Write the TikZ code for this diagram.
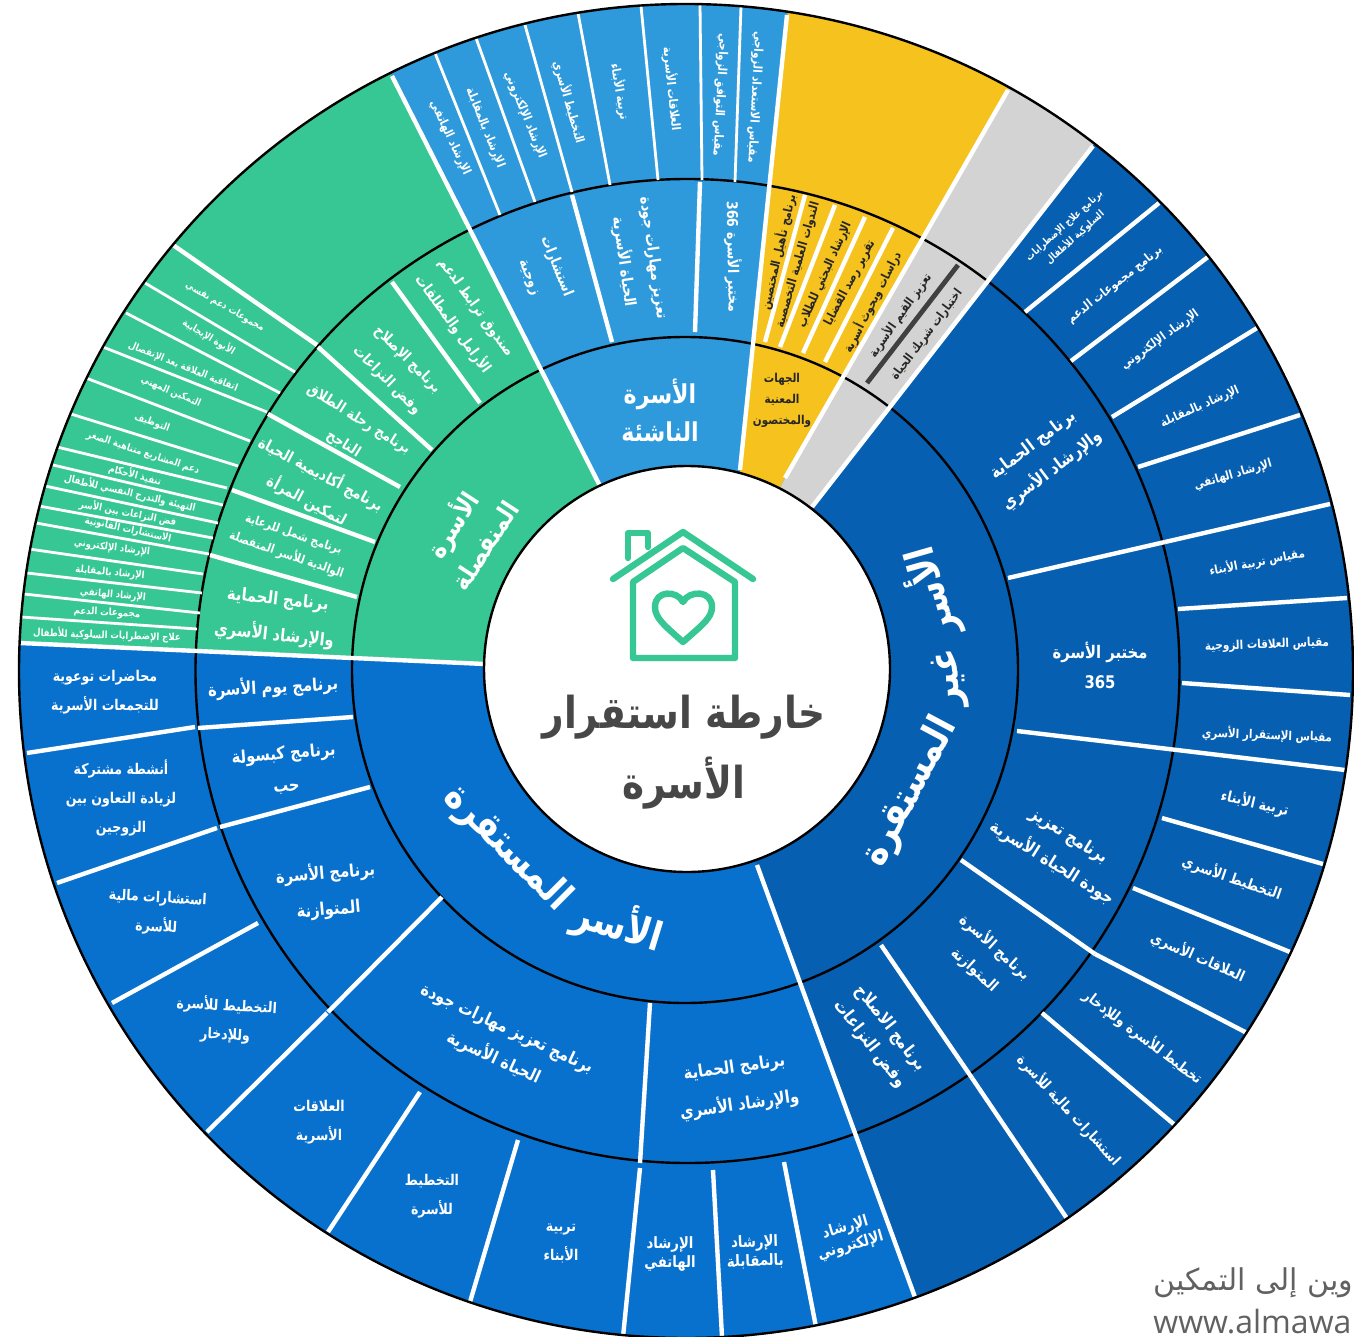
\documentclass[tikz,border=0pt]{standalone}
\usepackage{fontspec}
\newfontfamily\arabicfont[Script=Arabic,FakeStretch=0.85]{DejaVu Sans}
\newfontfamily\footfont[Script=Arabic]{DejaVu Sans}
\newfontfamily\latinfont{Open Sans}
\TeXXeTstate=1
\newcommand{\ar}[1]{\beginR #1\endR}
\definecolor{green_fill}{HTML}{36C795}
\definecolor{light_fill}{HTML}{2F9ADB}
\definecolor{mid_fill}{HTML}{0871CE}
\definecolor{dark_fill}{HTML}{065FB0}
\definecolor{yellow_fill}{HTML}{F5C21E}
\definecolor{grey_fill}{HTML}{D3D3D3}

\begin{document}
\begin{tikzpicture}[x=0.5pt,y=-0.5pt,
  sep_thin/.style={white, line width=1.4pt},
  sep_thick/.style={white, line width=2.2pt},
  ring/.style={black, line width=1.2pt},
  icon/.style={green_fill, line width=3.2pt, line join=round, line cap=round},
  txt/.style={text=white, align=center, inner sep=0pt},
  txt_dark/.style={text=black!85, align=center, inner sep=0pt},
  huge_txt/.style={font=\arabicfont\bfseries\fontsize{20}{24}\selectfont},
  big_txt/.style={font=\arabicfont\bfseries\fontsize{13}{19}\selectfont},
  small_txt/.style={font=\arabicfont\bfseries\fontsize{8.7}{16}\selectfont},
  mid_txt/.style={font=\arabicfont\bfseries\fontsize{7.8}{15}\selectfont},
  tiny_txt/.style={font=\arabicfont\bfseries\fontsize{7.4}{14.5}\selectfont},
  pack_txt/.style={font=\arabicfont\bfseries\fontsize{7.8}{9.5}\selectfont},
  micro_txt/.style={font=\arabicfont\bfseries\fontsize{6.1}{9}\selectfont},
  nano_txt/.style={font=\arabicfont\bfseries\fontsize{5}{8}\selectfont}]

 \useasboundingbox (0,0) rectangle (1354,1337);

 \begin{scope}
 \clip (686,671) circle (667);
 \fill [dark_fill] (686,671) circle (667);
 \fill [mid_fill] (686,671) -- (757,865) -- (970,1450) -- (-50,1450) -- (-50,640) -- (485,664) -- cycle;
 \fill [green_fill] (686,671) -- (485,664) -- (-50,640) -- (-50,-50) -- (328,-50) -- (600,486) -- cycle;
 \fill [light_fill] (686,671) -- (600,486) -- (328,-50) -- (794,-50) -- (740,470) -- cycle;
 \fill [yellow_fill] (686,671) -- (740,470) -- (794,-50) -- (1088,-50) -- (785,478) -- cycle;
 \fill [grey_fill] (686,671) -- (785,478) -- (1088,-50) -- (1245,-50) -- (812,507) -- cycle;
 \end{scope}

 \draw [ring] (685,670) circle (333);
 \draw [ring] (687.5,671) circle (492);

 \draw [sep_thick] (20,643) -- (485,664);
 \draw [sep_thick] (392,76) -- (600,486);
 \draw [sep_thick] (787,15) -- (740,470);
 \draw [sep_thick] (1008,90) -- (785,478);
 \draw [sep_thick] (1093,146) -- (812,507);
 \draw [sep_thick] (916,1300) -- (757,865);

 \draw [sep_thin] (435,53) -- (500,215);
 \draw [sep_thin] (476,38) -- (535,202);
 \draw [sep_thin] (525,25) -- (572,192);
 \draw [sep_thick] (572,195) -- (612,342);
 \draw [sep_thin] (578,13) -- (610,185);
 \draw [sep_thin] (641,6) -- (658,180);
 \draw [sep_thin] (700,4) -- (702,180);
 \draw [sep_thick] (700,182) -- (695,332);
 \draw [sep_thin] (741,6) -- (735,182);

 \draw [sep_thick] (805,195) -- (765,342);
 \draw [sep_thick] (835,205) -- (780,347);
 \draw [sep_thick] (865,217) -- (803,353);
 \draw [sep_thick] (893,228) -- (825,362);
 \draw [line width=2.4pt, black!75] (867,383) -- (958,265);

 \draw [sep_thick] (1159,203) -- (1025,312);
 \draw [sep_thick] (1208,257) -- (1071,361);
 \draw [sep_thick] (1257,328) -- (1112,417);
 \draw [sep_thick] (1300,415) -- (1138,467);
 \draw [sep_thick] (1330,504) -- (1165,542);
 \draw [sep_thick] (1165,542) -- (1008,578);
 \draw [sep_thick] (1347,598) -- (1178,609);
 \draw [sep_thick] (1350,695) -- (1182,683);
 \draw [sep_thick] (1345,770) -- (1177,750);
 \draw [sep_thick] (1177,750) -- (1017,731);
 \draw [sep_thick] (1323,864) -- (1162,818);
 \draw [sep_thick] (1290,952) -- (1133,888);
 \draw [sep_thick] (1247,1033) -- (1095,954);
 \draw [sep_thick] (1095,954) -- (961,860);
 \draw [sep_thick] (1176,1126) -- (1042,1013);
 \draw [sep_thick] (1068,1220) -- (972,1078);
 \draw [sep_thick] (972,1078) -- (881,945);

 \draw [sep_thick] (784,1162) -- (816,1327);
 \draw [sep_thick] (713,1170) -- (722,1337);
 \draw [sep_thick] (650,1003) -- (640,1163);
 \draw [sep_thick] (640,1168) -- (623,1337);
 \draw [sep_thick] (518,1140) -- (470,1302);
 \draw [sep_thick] (420,1092) -- (328,1232);
 \draw [sep_thick] (442,897) -- (328,1012);
 \draw [sep_thick] (327,1013) -- (207,1132);
 \draw [sep_thick] (258,923) -- (112,1003);
 \draw [sep_thick] (370,787) -- (220,827);
 \draw [sep_thick] (217,828) -- (57,883);
 \draw [sep_thick] (353,717) -- (198,728);
 \draw [sep_thick] (195,727) -- (27,753);

 \draw [sep_thick] (173,245) -- (317,345);
 \draw [sep_thick] (318,347) -- (432,450);
 \draw [sep_thin] (145,283) -- (295,372);
 \draw [sep_thin] (126,313) -- (280,393);
 \draw [sep_thin] (103,347) -- (267,412);
 \draw [sep_thick] (268,414) -- (400,487);
 \draw [sep_thin] (86,378) -- (250,441);
 \draw [sep_thin] (71,414) -- (238,466);
 \draw [sep_thin] (57,447) -- (227,488);
 \draw [sep_thick] (232,490) -- (375,542);
 \draw [sep_thin] (53,465) -- (223,505);
 \draw [sep_thin] (45,486) -- (218,523);
 \draw [sep_thin] (39,506) -- (213,538);
 \draw [sep_thin] (36,523) -- (209,554);
 \draw [sep_thick] (210,555) -- (357,597);
 \draw [sep_thin] (29,549) -- (203,574);
 \draw [sep_thin] (27,573) -- (202,593);
 \draw [sep_thin] (24,594) -- (200,613);
 \draw [sep_thin] (21,617) -- (197,629);
 \draw [sep_thick] (392,282) -- (480,403);

 \draw [ring] (686,671) circle (667);
 \filldraw [fill=white, draw=black, line width=1.2pt] (687,669) circle (203);

 \draw [icon] (613,579) -- (683,532) -- (753,579);
 \draw [icon] (628,558) -- (628,533) -- (648,533) -- (648,547);
 \draw [icon] (633,582) -- (683,548) -- (735,582) -- (735,658) -- (633,658) -- cycle;
 \draw [icon] (683,642) .. controls (664,625) and (655,618) .. (655,607) .. controls (655,590) and (677,590) .. (683,602) .. controls (689,590) and (712,590) .. (712,607) .. controls (712,618) and (702,625) .. (683,642) -- cycle;

 \node (title_1) at (684,752) [txt, text=black!72, font=\arabicfont\bfseries\fontsize{22}{35}\selectfont]
     {\ar{خارطة استقرار}\\\ar{الأسرة}};

 \node (main_1) at (930,592) [txt, huge_txt, rotate=106] {\ar{الأسر}};
 \node (main_2) at (950,678) [txt, huge_txt, rotate=92] {\ar{غير}};
 \node (main_3) at (910,792) [txt, huge_txt, rotate=62] {\ar{المستقرة}};
 \node (main_4) at (618,925) [txt, huge_txt, rotate=-17] {\ar{الأسر}};
 \node (main_5) at (507,848) [txt, huge_txt, rotate=-45] {\ar{المستقرة}};
 \node (main_6) at (467,534) [txt, big_txt, rotate=57] {\ar{الأسرة}\\\ar{المنفصلة}};
 \node (main_7) at (660,410) [txt, big_txt] {\ar{الأسرة}\\\ar{الناشئة}};
 \node (main_8) at (782,400) [txt_dark, micro_txt] {\ar{الجهات}\\[1.5pt]\ar{المعنية}\\[1.5pt]\ar{والمختصون}};

 \node (light_1) at (755,97) [txt, micro_txt, rotate=-93] {\ar{مقياس الاستعداد الزواجي}};
 \node (light_2) at (720,95) [txt, micro_txt, rotate=-93] {\ar{مقياس التوافق الزواجي}};
 \node (light_3) at (672,89) [txt, micro_txt, rotate=-84] {\ar{العلاقات الأسرية}};
 \node (light_4) at (620,92) [txt, micro_txt, rotate=-80] {\ar{تربية الأبناء}};
 \node (light_5) at (569,102) [txt, micro_txt, rotate=-74] {\ar{التخطيط الأسري}};
 \node (light_6) at (525,115) [txt, micro_txt, rotate=-68] {\ar{الإرشاد الإلكتروني}};
 \node (light_7) at (485,128) [txt, micro_txt, rotate=-68] {\ar{الإرشاد بالمقابلة}};
 \node (light_8) at (450,138) [txt, micro_txt, rotate=-65] {\ar{الإرشاد الهاتفي}};
 \node (light_9) at (733,257) [txt, tiny_txt, rotate=-89] {\ar{مختبر الأسرة \beginL 366\endL}};
 \node (light_10) at (638,260) [txt, mid_txt, rotate=-82] {\ar{تعزيز مهارات جودة}\\\ar{الحياة الأسرية}};
 \node (light_11) at (543,272) [txt, tiny_txt, rotate=-68] {\ar{استشارات}\\\ar{زوجية}};

 \node (yellow_1) at (778,252) [txt_dark, micro_txt, rotate=77] {\ar{برنامج تأهيل المختصين}};
 \node (yellow_2) at (798,265) [txt_dark, micro_txt, rotate=74] {\ar{الندوات العلمية التخصصية}};
 \node (yellow_3) at (825,275) [txt_dark, micro_txt, rotate=66] {\ar{الإرشاد البحثي للطلاب}};
 \node (yellow_4) at (850,283) [txt_dark, micro_txt, rotate=62] {\ar{تقرير رصد القضايا}};
 \node (yellow_5) at (872,302) [txt_dark, micro_txt, rotate=63] {\ar{دراسات وبحوث أسرية}};
 \node (grey_1) at (900,315) [txt_dark, micro_txt, rotate=55] {\ar{تعزيز القيم الأسرية}};
 \node (grey_2) at (927,335) [txt_dark, micro_txt, rotate=53] {\ar{اختبارات شريك الحياة}};

 \node (dark_1) at (1070,232) [txt, nano_txt, rotate=42] {\ar{برنامج علاج الإضطرابات}\\\ar{السلوكية للأطفال}};
 \node (dark_2) at (1115,285) [txt, micro_txt, rotate=38] {\ar{برنامج مجموعات الدعم}};
 \node (dark_3) at (1160,340) [txt, micro_txt, rotate=36] {\ar{الإرشاد الإلكتروني}};
 \node (dark_4) at (1200,407) [txt, micro_txt, rotate=24] {\ar{الإرشاد بالمقابلة}};
 \node (dark_5) at (1233,475) [txt, micro_txt, rotate=16] {\ar{الإرشاد الهاتفي}};
 \node (dark_6) at (1257,562) [txt, micro_txt, rotate=11] {\ar{مقياس تربية الأبناء}};
 \node (dark_7) at (1267,645) [txt, micro_txt, rotate=2] {\ar{مقياس العلاقات الزوجية}};
 \node (dark_8) at (1267,735) [txt, micro_txt, rotate=-2] {\ar{مقياس الإستقرار الأسري}};
 \node (dark_9) at (1255,803) [txt, tiny_txt, rotate=-13] {\ar{تربية الأبناء}};
 \node (dark_10) at (1232,878) [txt, tiny_txt, rotate=-19] {\ar{التخطيط الأسري}};
 \node (dark_11) at (1198,957) [txt, tiny_txt, rotate=-24] {\ar{العلاقات الأسري}};
 \node (dark_12) at (1143,1037) [txt, tiny_txt, rotate=-37] {\ar{تخطيط للأسرة وللإدخار}};
 \node (dark_13) at (1069,1110) [txt, tiny_txt, rotate=-47] {\ar{استشارات مالية للأسرة}};
 \node (dark_14) at (1043,458) [txt, small_txt, rotate=37] {\ar{برنامج الحماية}\\\ar{والإرشاد الأسري}};
 \node (dark_15) at (1100,665) [txt, small_txt] {\ar{مختبر الأسرة}\\[-1pt]\beginL 365\endL};
 \node (dark_16) at (1060,850) [txt, small_txt, rotate=-32] {\ar{برنامج تعزيز}\\\ar{جودة الحياة الأسرية}};
 \node (dark_17) at (985,958) [txt, mid_txt, rotate=-42] {\ar{برنامج الأسرة}\\\ar{المتوازنة}};
 \node (dark_18) at (880,1036) [txt, small_txt, rotate=-52] {\ar{برنامج الاصلاح}\\[-3pt]\ar{وفض النزاعات}};

 \node (mid_1) at (273,687) [txt, small_txt, rotate=3] {\ar{برنامج يوم الأسرة}};
 \node (mid_2) at (285,770) [txt, small_txt, rotate=5] {\ar{برنامج كبسولة}\\\ar{حب}};
 \node (mid_3) at (327,891) [txt, small_txt, rotate=5] {\ar{برنامج الأسرة}\\[2pt]\ar{المتوازنة}};
 \node (mid_4) at (500,1044) [txt, small_txt, rotate=-25] {\ar{برنامج تعزيز مهارات جودة}\\\ar{الحياة الأسرية}};
 \node (mid_5) at (737,1087) [txt, small_txt, rotate=8] {\ar{برنامج الحماية}\\[3pt]\ar{والإرشاد الأسري}};
 \node (mid_6) at (105,692) [txt, tiny_txt] {\ar{محاضرات توعوية}\\\ar{للتجمعات الأسرية}};
 \node (mid_7) at (121,798) [txt, tiny_txt] {\ar{أنشطة مشتركة}\\\ar{لزيادة التعاون بين}\\\ar{الزوجين}};
 \node (mid_8) at (157,913) [txt, tiny_txt, rotate=-3] {\ar{استشارات مالية}\\\ar{للأسرة}};
 \node (mid_9) at (226,1020) [txt, tiny_txt, rotate=-3] {\ar{التخطيط للأسرة}\\\ar{وللإدخار}};
 \node (mid_10) at (319,1122) [txt, tiny_txt] {\ar{العلاقات}\\\ar{الأسرية}};
 \node (mid_11) at (432,1196) [txt, tiny_txt] {\ar{التخطيط}\\\ar{للأسرة}};
 \node (mid_12) at (561,1243) [txt, tiny_txt] {\ar{تربية}\\\ar{الأبناء}};
 \node (mid_13) at (670,1254) [txt, pack_txt] {\ar{الإرشاد}\\\ar{الهاتفي}};
 \node (mid_14) at (755,1252) [txt, pack_txt, rotate=2] {\ar{الإرشاد}\\\ar{بالمقابلة}};
 \node (mid_15) at (848,1237) [txt, pack_txt, rotate=16] {\ar{الإرشاد}\\\ar{الإلكتروني}};

 \node (green_1) at (464,316) [txt, tiny_txt, rotate=-54] {\ar{صندوق ترابط لدعم}\\\ar{الأرامل والمطلقات}};
 \node (green_2) at (397,370) [txt, tiny_txt, rotate=-45] {\ar{برنامج الإصلاح}\\\ar{وفض النزاعات}};
 \node (green_3) at (351,432) [txt, tiny_txt, rotate=-32] {\ar{برنامج رحلة الطلاق}\\\ar{الناجح}};
 \node (green_4) at (314,487) [txt, mid_txt, rotate=-28] {\ar{برنامج أكاديمية الحياة}\\\ar{لتمكين المرأة}};
 \node (green_5) at (290,545) [txt, micro_txt, rotate=-19] {\ar{برنامج شمل للرعاية}\\[2pt]\ar{الوالدية للأسر المنفصلة}};
 \node (green_6) at (276,618) [txt, small_txt, rotate=-6] {\ar{برنامج الحماية}\\[2pt]\ar{والإرشاد الأسري}};
 \node (green_7) at (225,307) [txt, nano_txt, rotate=-30] {\ar{مجموعات دعم نفسي}};
 \node (green_8) at (209,337) [txt, nano_txt, rotate=-31] {\ar{الأبوة الإيجابية}};
 \node (green_9) at (183,367) [txt, nano_txt, rotate=-22] {\ar{اتفاقية العلاقة بعد الإنفصال}};
 \node (green_10) at (171,392) [txt, nano_txt, rotate=-23] {\ar{التمكين المهني}};
 \node (green_11) at (152,423) [txt, nano_txt, rotate=-20] {\ar{التوظيف}};
 \node (green_12) at (143,453) [txt, nano_txt, rotate=-18] {\ar{دعم المشاريع متناهية الصغر}};
 \node (green_13) at (135,475) [txt, nano_txt, rotate=-15] {\ar{تنفيذ الأحكام}};
 \node (green_14) at (130,493) [txt, nano_txt, rotate=-13] {\ar{التهيئة والتدرج النفسي للأطفال}};
 \node (green_15) at (128,513) [txt, nano_txt, rotate=-11] {\ar{فض النزاعات بين الأسر}};
 \node (green_16) at (128,530) [txt, nano_txt, rotate=-12] {\ar{الاستشارات القانونية}};
 \node (green_17) at (112,548) [txt, nano_txt, rotate=-7] {\ar{الإرشاد الإلكتروني}};
 \node (green_18) at (110,573) [txt, nano_txt, rotate=-5] {\ar{الإرشاد بالمقابلة}};
 \node (green_19) at (113,595) [txt, nano_txt, rotate=-5] {\ar{الإرشاد الهاتفي}};
 \node (green_20) at (107,613) [txt, nano_txt, rotate=-3] {\ar{مجموعات الدعم}};
 \node (green_21) at (107,635) [txt, nano_txt, rotate=-2] {\ar{علاج الإضطرابات السلوكية للأطفال}};

 \node (foot_1) at (1153,1283) [anchor=west, inner sep=0pt, text=black!62, font=\footfont\fontsize{15}{17}\selectfont] {\ar{وين إلى التمكين}};
 \node (foot_2) at (1153,1322) [anchor=west, inner sep=0pt, text=black!62, font=\latinfont\fontsize{16}{18}\selectfont] {www.almawa};

\end{tikzpicture}
\end{document}
